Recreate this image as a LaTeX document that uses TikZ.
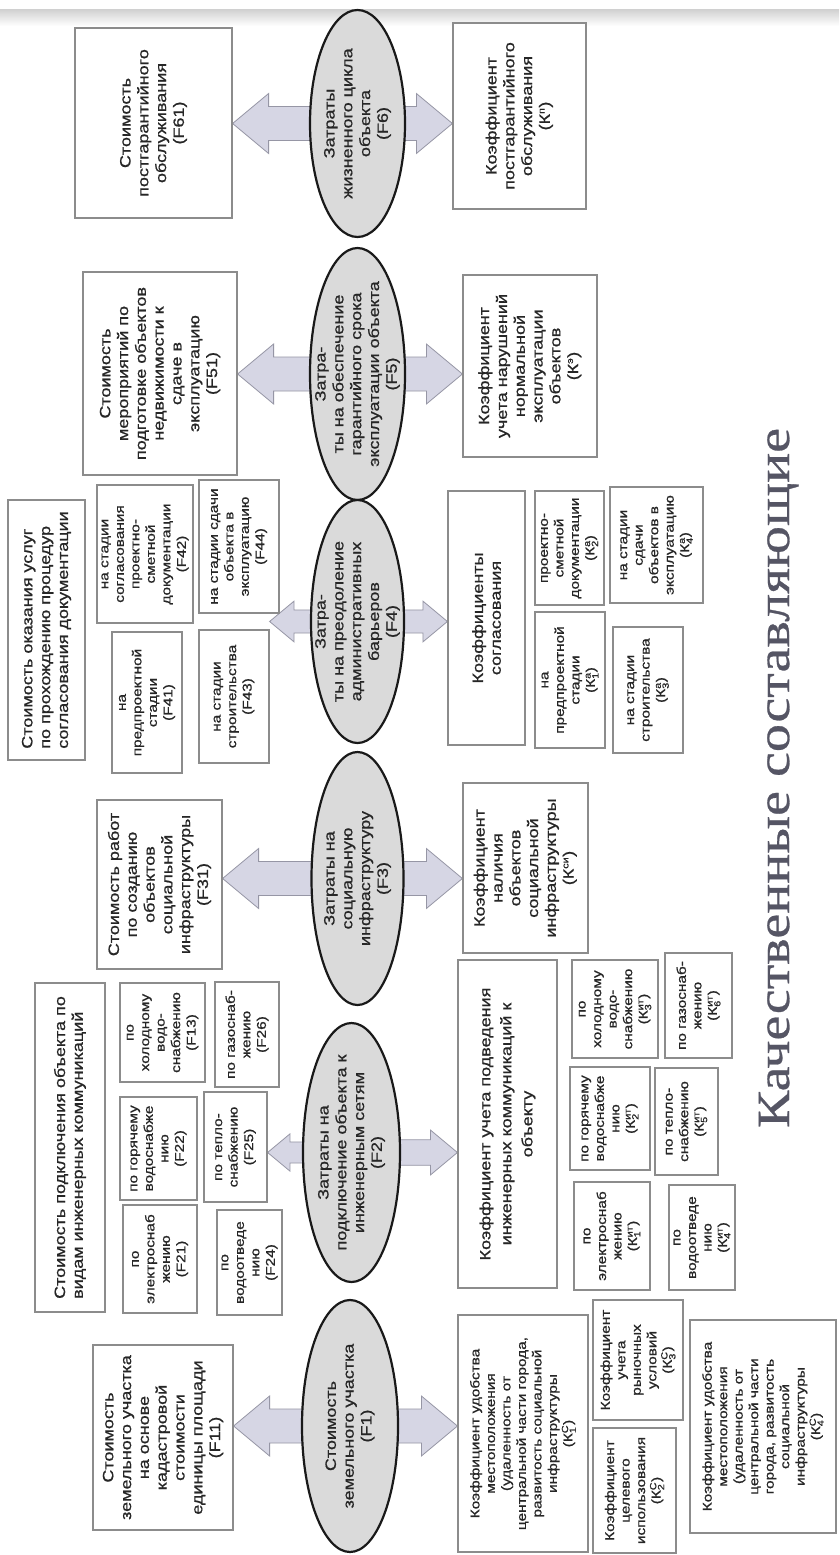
\documentclass[tikz,border=0pt]{standalone}
\usepackage{fontspec}
\setmainfont{Liberation Sans}[FakeStretch=1.2, FakeBold=0.8]
\newfontfamily\titlefont{Liberation Serif}[FakeStretch=1.22, FakeBold=0.6]
\usetikzlibrary{shapes.geometric,calc}
\pgfdeclarelayer{background}
\pgfsetlayers{background,main}

\definecolor{boxline}{RGB}{140,140,140}
\definecolor{ovalfill}{RGB}{218,218,218}
\definecolor{ovalline}{RGB}{25,25,25}
\definecolor{arrowfill}{RGB}{214,214,228}
\definecolor{arrowline}{RGB}{150,150,165}
\definecolor{titlegray}{RGB}{85,85,100}

\newcommand\boxfont{\fontsize{15}{17.8}\selectfont}
\newcommand\subfont{\fontsize{12.8}{15.5}\selectfont}
\newcommand\coef[2]{К$^{\mbox{\fontsize{9}{9}\selectfont #1}}_{\mbox{\fontsize{9}{9}\selectfont #2}}$}

\tikzset{
	oval/.style={ellipse, draw=ovalline, line width=2.2pt, fill=ovalfill, rotate=90, inner sep=0pt},
	ovaltext/.style={rotate=90, align=center, font=\boxfont, text=black!85},
	box/.style={draw=boxline, line width=1.2pt, fill=white, rotate=90, align=center, inner sep=0pt, font=\boxfont, text=black!85},
	subbox/.style={box, font=\subfont},
	wh/.style 2 args={minimum width=#1pt, minimum height=#2pt},
	bigarrow/.style={fill=arrowfill, draw=arrowline, line width=0.8pt, line join=miter},
	heading/.style={rotate=90, font=\titlefont\fontsize{46}{50}\selectfont, text=titlegray}
}

% block arrow from an oval to a box
\newcommand\blockarrow[3][1]{%
	\begin{pgfonlayer}{background}
		\filldraw[bigarrow] let \p1=(#2), \p2=(#3), \n1={sign(\x2-\x1)} in
			(\x1,{\y1+#1*17pt}) -- ({\x2-(\n1)*#1*36pt},{\y1+#1*17pt}) -- ({\x2-(\n1)*#1*36pt},{\y1+#1*30pt})
			-- (\x2,\y1) -- ({\x2-(\n1)*#1*36pt},{\y1-#1*30pt}) -- ({\x2-(\n1)*#1*36pt},{\y1-#1*17pt})
			-- (\x1,{\y1-#1*17pt}) -- cycle;
	\end{pgfonlayer}}

\begin{document}
\begin{tikzpicture}[x=1pt, y=-1pt]
		\useasboundingbox (0,0) rectangle (839,1555);
		\begin{pgfonlayer}{background}
			\fill[white] (0,0) rectangle (839,1555);
			\shade[top color=gray!35, bottom color=white] (0,10) rectangle (839,26);
		\end{pgfonlayer}

		% Draw ovals.
		\node[oval, wh={227}{95}] (F6) at (357.5,123.5) {};
		\node[oval, wh={252}{95}] (F5) at (357.5,374) {};
		\node[oval, wh={243}{93}] (F4) at (357.5,621.5) {};
		\node[oval, wh={253}{92}] (F3) at (357.5,878.5) {};
		\node[oval, wh={259}{97}] (F2) at (351.5,1152.5) {};
		\node[oval, wh={252}{96}] (F1) at (350,1426) {};
		\node[ovaltext] (F6t) at (F6) {Затраты\\жизненного цикла\\объекта\\(F6)};
		\node[ovaltext] (F5t) at (F5) {Затра-\\ты на обеспечение\\гарантийного срока\\эксплуатации объекта\\(F5)};
		\node[ovaltext] (F4t) at (F4) {Затра-\\ты на преодоление\\административных\\барьеров\\(F4)};
		\node[ovaltext] (F3t) at (F3) {Затраты на\\социальную\\инфраструктуру\\(F3)};
		\node[ovaltext] (F2t) at (F2) {Затраты на\\подключение объекта к\\инженерным сетям\\(F2)};
		\node[ovaltext] (F1t) at (F1) {Стоимость\\земельного участка\\(F1)};

		% Cost boxes.
		\node[box, wh={190}{157}] (F61) at (153.5,123) {Стоимость\\постгарантийного\\обслуживания\\(F61)};
		\node[box, wh={203}{154}] (F51) at (160,373.5) {Стоимость\\мероприятий по\\подготовке объектов\\недвижимости к\\сдаче в\\эксплуатацию\\(F51)};
		\node[box, wh={260}{77}, align=left] (F4o) at (46.5,630) {Стоимость оказания услуг\\по прохождению процедур\\согласования документации};
		\node[subbox, wh={138}{96}] (F42) at (145,554) {на стадии\\согласования\\проектно-\\сметной\\документации\\(F42)};
		\node[subbox, wh={133}{80}] (F44) at (239,546.5) {на стадии сдачи\\объекта в\\эксплуатацию\\(F44)};
		\node[subbox, wh={141}{70}] (F41) at (147,702.5) {на\\предпроектной\\стадии\\(F41)};
		\node[subbox, wh={133}{70}] (F43) at (234,696.5) {на стадии\\строительства\\(F43)};
		\node[box, wh={169}{125}] (F31) at (159.5,884.5) {Стоимость работ\\по созданию\\объектов\\социальной\\инфраструктуры\\(F31)};
		\node[box, wh={329}{70}, align=left] (F2o) at (70,1147.5) {Стоимость подключения объекта по\\видам инженерных коммуникаций};
		\node[subbox, wh={99}{85}] (F23) at (162.5,1032.5) {по\\холодному\\водо-\\снабжению\\(F13)};
		\node[subbox, wh={105}{64}] (F26) at (247,1034.5) {по газоснаб-\\жению\\(F26)};
		\node[subbox, wh={103}{77}] (F22) at (158.5,1148.5) {по горячему\\водоснабже\\нию\\(F22)};
		\node[subbox, wh={110}{63}] (F25) at (235.5,1147) {по тепло-\\снабжению\\(F25)};
		\node[subbox, wh={108}{74}] (F21) at (160,1259) {по\\электроснаб\\жению\\(F21)};
		\node[subbox, wh={105}{65}] (F24) at (249.5,1262.5) {по\\водоотведе\\нию\\(F24)};
		\node[box, wh={185}{140}] (F11) at (163,1437.5) {Стоимость\\земельного участка\\на основе\\кадастровой\\стоимости\\единицы площади\\(F11)};

		% Coefficient boxes.
		\node[box, wh={186}{133}] (K6) at (519.5,116) {Коэффициент\\постгарантийного\\обслуживания\\(\coef{п}{})};
		\node[box, wh={182}{134}] (K5) at (530,366) {Коэффициент\\учета нарушений\\нормальной\\эксплуатации\\объектов\\(\coef{э}{})};
		\node[box, wh={254}{77}] (K4o) at (486.5,618) {Коэффициенты\\согласования};
		\node[subbox, wh={114}{69}] (Ka2) at (569.5,548) {проектно-\\сметной\\документации\\(\coef{а}{2})};
		\node[subbox, wh={116}{93}] (Ka4) at (656.5,545) {на стадии\\сдачи\\объектов в\\эксплуатацию\\(\coef{а}{4})};
		\node[subbox, wh={136}{70}] (Ka1) at (570,680) {на\\предпроектной\\стадии\\(\coef{а}{1})};
		\node[subbox, wh={126}{70}] (Ka3) at (648,690) {на стадии\\строительства\\(\coef{а}{3})};
		\node[box, wh={170}{125}] (K3) at (525.5,868) {Коэффициент\\наличия\\объектов\\социальной\\инфраструктуры\\(\coef{си}{})};
		\node[box, wh={328}{99}, font={\fontsize{15}{21}\selectfont}] (K2o) at (507.5,1124) {Коэффициент учета подведения\\инженерных коммуникаций к\\объекту};
		\node[subbox, wh={98}{86}] (Kt3) at (615,1009) {по\\холодному\\водо-\\снабжению\\(\coef{ит}{3})};
		\node[subbox, wh={105}{67}] (Kt6) at (698.5,1005.5) {по газоснаб-\\жению\\(\coef{ит}{6})};
		\node[subbox, wh={103}{80}] (Kt2) at (610,1118.5) {по горячему\\водоснабже\\нию\\(\coef{ит}{2})};
		\node[subbox, wh={107}{63}] (Kt5) at (686.5,1121.5) {по тепло-\\снабжению\\(\coef{ит}{5})};
		\node[subbox, wh={108}{76}] (Kt1) at (612,1236) {по\\электроснаб\\жению\\(\coef{ит}{1})};
		\node[subbox, wh={105}{66}] (Kt4) at (702,1237.5) {по\\водоотведе\\нию\\(\coef{ит}{4})};
		\node[subbox, wh={237}{130}] (Kc1) at (523,1433.5) {Коэффициент удобства\\местоположения\\(удаленность от\\центральной части города,\\развитость социальной\\инфраструктуры\\(\coef{С}{1})};
		\node[subbox, wh={120}{90}] (Kc3) at (638,1360) {Коэффициент\\учета\\рыночных\\условий\\(\coef{С}{3})};
		\node[subbox, wh={125}{83}] (Kc2) at (634.5,1490.5) {Коэффициент\\целевого\\использования\\(\coef{С}{2})};
		\node[subbox, wh={213}{146}] (Kc4) at (763,1426.5) {Коэффициент удобства\\местоположения\\(удаленность от\\центральной части\\города, развитость\\социальной\\инфраструктуры\\(\coef{С}{4})};

		% Arrows.
		\blockarrow{F6}{F61.south}
		\blockarrow{F6}{K6.north}
		\blockarrow{F5}{F51.south}
		\blockarrow{F5}{K5.north}
		\blockarrow[0.68]{F4}{F43.south}
		\blockarrow[0.68]{F4}{K4o.north}
		\blockarrow{F3}{F31.south}
		\blockarrow{F3}{K3.north}
		\blockarrow[0.62]{F2}{F25.south}
		\blockarrow[0.75]{F2}{K2o.north}
		\blockarrow{F1}{F11.south}
		\blockarrow{F1}{Kc1.north}

		\node[heading, anchor=base] (title) at (789,778) {Качественные составляющие};
	\end{tikzpicture}
\end{document}
